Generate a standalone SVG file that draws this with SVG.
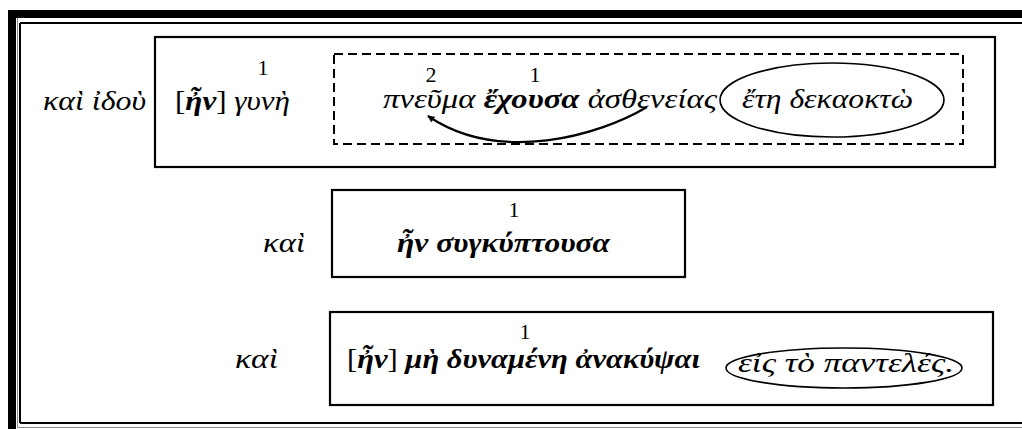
<svg xmlns="http://www.w3.org/2000/svg" width="1022" height="429" viewBox="0 0 1022 429">
  <style>
    .t { font-family: "Liberation Serif", "DejaVu Serif", serif; font-size: 28px; fill: #000; }
    .i { font-style: italic; }
    .b { font-weight: bold; font-style: italic; }
    .n { font-family: "Liberation Serif", "Times New Roman", serif; font-size: 22px; fill: #000; text-anchor: middle; }
    .box { fill: none; stroke: #000; stroke-width: 2.2; }
    .dash { fill: none; stroke: #000; stroke-width: 2; stroke-dasharray: 9 5; }
    .oval { fill: none; stroke: #000; stroke-width: 1.6; }
  </style>
  <defs>
    <marker id="head" viewBox="0 0 10 10" refX="9" refY="5" markerWidth="7" markerHeight="7" orient="auto" markerUnits="userSpaceOnUse">
      <path d="M0,0 L10,5 L0,10 Z" fill="#000"/>
    </marker>
  </defs>
  <rect width="1022" height="429" fill="#fff"/>

  <!-- page frame: thick-thin border -->
  <g id="frame">
    <rect x="8" y="10" width="1014" height="8" fill="#000"/>
    <rect x="8" y="10" width="8" height="419" fill="#000"/>
    <line x1="20" y1="23" x2="1022" y2="23" stroke="#000" stroke-width="2"/>
    <line x1="20" y1="23" x2="20" y2="423" stroke="#000" stroke-width="2"/>
    <line x1="20" y1="423" x2="1022" y2="423" stroke="#000" stroke-width="2"/>
    <line x1="17.5" y1="18" x2="17.5" y2="427.5" stroke="#888" stroke-width="1"/>
    <line x1="17.5" y1="427.5" x2="1022" y2="427.5" stroke="#888" stroke-width="1"/>
  </g>

  <!-- clause 1 -->
  <g id="clause1">
    <text class="t i" x="43" y="110" textLength="103" lengthAdjust="spacingAndGlyphs">καὶ ἰδοὺ</text>
    <rect class="box" x="155" y="37" width="840" height="130"/>
    <text class="n" x="263" y="75">1</text>
    <text class="t" x="175" y="110" textLength="115" lengthAdjust="spacingAndGlyphs">[<tspan class="b">ἦν</tspan>] <tspan class="i">γυνὴ</tspan></text>
  </g>

  <g id="participle1">
    <rect class="dash" x="334" y="54" width="629" height="90"/>
    <text class="n" x="431" y="82">2</text>
    <text class="n" x="535" y="82">1</text>
    <text class="t" x="383" y="108" textLength="334" lengthAdjust="spacingAndGlyphs"><tspan class="i">πνεῦμα </tspan><tspan class="b">ἔχουσα</tspan><tspan class="i"> ἀσθενείας</tspan></text>
  </g>

  <g id="time1">
    <ellipse class="oval" cx="832" cy="100" rx="112" ry="37"/>
    <text class="t i" x="742" y="108" textLength="171" lengthAdjust="spacingAndGlyphs">ἔτη δεκαοκτὼ</text>
  </g>

  <!-- clause 2 -->
  <g id="clause2">
    <text class="t i" x="263" y="252" textLength="42" lengthAdjust="spacingAndGlyphs">καὶ</text>
    <rect class="box" x="332" y="190" width="353" height="87"/>
    <text class="n" x="514" y="217">1</text>
    <text class="t b" x="397" y="252" textLength="213" lengthAdjust="spacingAndGlyphs">ἦν συγκύπτουσα</text>
  </g>

  <!-- clause 3 -->
  <g id="clause3">
    <text class="t i" x="235" y="368" textLength="43" lengthAdjust="spacingAndGlyphs">καὶ</text>
    <rect class="box" x="330" y="312" width="663" height="93"/>
    <text class="n" x="525" y="339">1</text>
    <text class="t" x="347" y="368" textLength="353" lengthAdjust="spacingAndGlyphs">[<tspan class="b">ἦν</tspan>] <tspan class="b">μὴ δυναμένη ἀνακύψαι</tspan></text>
  </g>

  <g id="extent3">
    <ellipse class="oval" cx="844" cy="368" rx="118" ry="20"/>
    <text class="t i" x="738" y="372" textLength="216" lengthAdjust="spacingAndGlyphs">εἰς τὸ παντελές.</text>
  </g>

  <!-- connectors -->
  <g id="connectors">
    <path d="M647,107 C600,135 500,165 428,116" fill="none" stroke="#000" stroke-width="2.2" marker-end="url(#head)"/>
  </g>
</svg>
